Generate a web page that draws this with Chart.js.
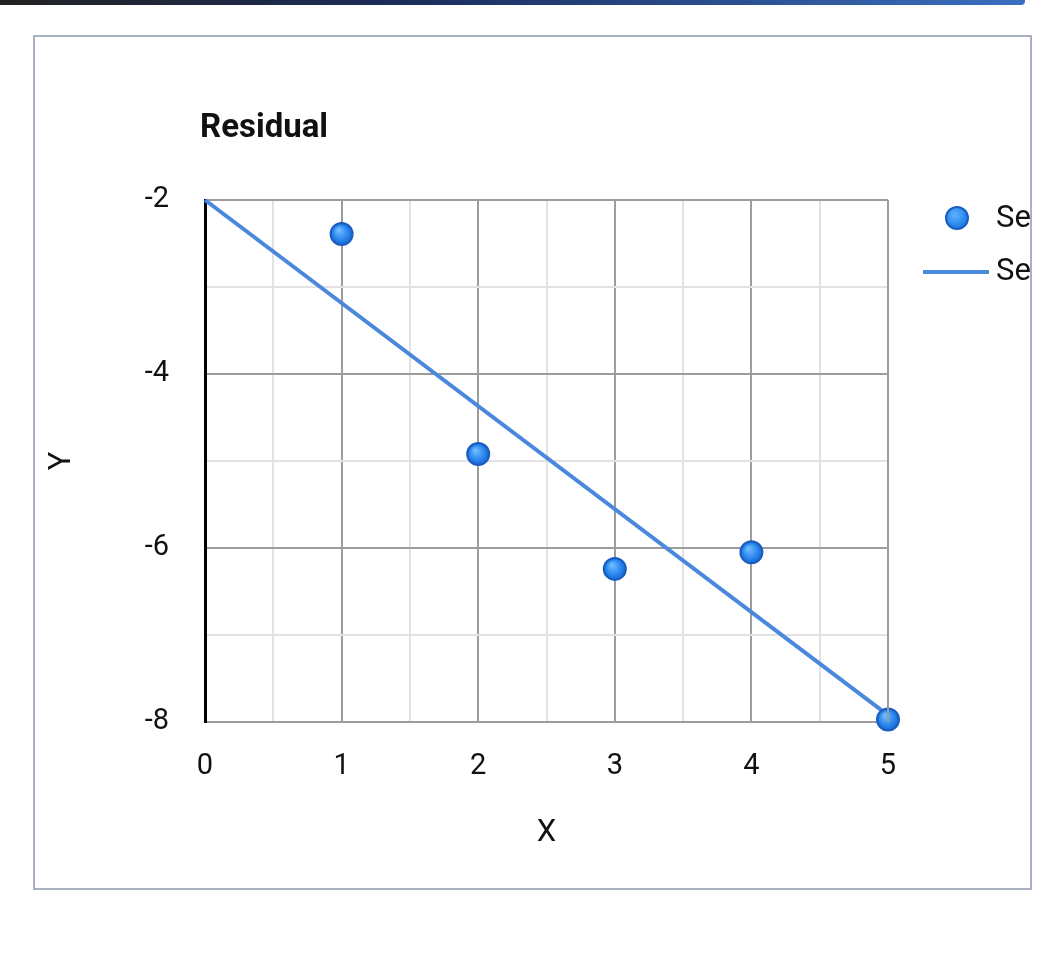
<!DOCTYPE html>
<html>
<head>
<meta charset="utf-8">
<script src="https://cdn.jsdelivr.net/npm/chart.js@4.4.1/dist/chart.umd.min.js"></script>
<style>
    body { margin: 0; background: #fff; font-family: Roboto, sans-serif; }
    #topBar { position: absolute; left: 0; top: 0; width: 1025px; height: 5px;
        background: linear-gradient(90deg, #222 0%, #1b2d5c 40%, #3a6fc0 100%); border-radius: 0 0 4px 0; }
    #frame { position: absolute; left: 33px; top: 35px; width: 995px; height: 851px;
        border: 2px solid #a9b0bf; overflow: hidden; }
    #wrap { position: absolute; left: 0; top: 0; width: 1060px; height: 964px; }
    #titulo { position: absolute; left: 200px; top: 106px; font-size: 33px; font-weight: 700; color: #111; }
    .leg { position: absolute; font-size: 31px; color: #111; white-space: nowrap; }
    .leg-dot { position: absolute; width: 20px; height: 20px; border-radius: 50%;
        background: radial-gradient(circle at 40% 35%, #5fb2ff, #1f7fe8 70%); border: 2px solid #1a5cc0; }
    .leg-line { position: absolute; height: 4px; background: #4a88dd; }
</style>
</head>
<body>
<div id="topBar"></div>
<div id="wrap"><canvas id="residualChart"></canvas></div>
<div id="frame">
    <div class="leg-dot" style="left: 910px; top: 169px;"></div>
    <div class="leg" style="left: 961px; top: 161px;">Series 1</div>
    <div class="leg-line" style="left: 888px; top: 233px; width: 66px;"></div>
    <div class="leg" style="left: 961px; top: 214px;">Series 2</div>
</div>
<div id="titulo">Residual</div>

<script>
// dados
const xValores = [1, 2, 3, 4, 5];
const residuos = [-2.39, -4.92, -6.24, -6.05, -7.97];
const linhaX = [0, 5];
const linhaY = [-2.0, -7.92];
const xTicks = [0, 1, 2, 3, 4, 5];
const yTicks = [-8, -6, -4, -2];

let residualChart = null;

document.addEventListener('DOMContentLoaded', function() {
    desenharGrafico();
});

// gradiente "brilhante" dos pontos
function corPonto(c) {
    const el = c.element;
    if (!el || el.x === undefined) return '#2f8cf0';
    const g = c.chart.ctx.createRadialGradient(el.x - 3, el.y - 4, 1, el.x, el.y, 11);
    g.addColorStop(0, '#6cbaff');
    g.addColorStop(0.7, '#2582ea');
    g.addColorStop(1, '#1a66d0');
    return g;
}

function desenharGrafico() {
    const ctx = document.getElementById('residualChart').getContext('2d');
    if (residualChart) residualChart.destroy();

    const pontos = xValores.map((x, i) => ({ x: x, y: residuos[i] }));
    const linha = linhaX.map((x, i) => ({ x: x, y: linhaY[i] }));

    residualChart = new Chart(ctx, {
        type: 'scatter',
        data: {
            datasets: [
                {
                    label: 'Series 1',
                    data: pontos,
                    backgroundColor: corPonto,
                    borderColor: '#1a5cc0',
                    borderWidth: 2,
                    pointRadius: 11,
                    clip: false,
                    order: 0
                },
                {
                    label: 'Series 2',
                    type: 'line',
                    data: linha,
                    borderColor: '#4a88dd',
                    borderWidth: 4,
                    pointRadius: 0,
                    fill: false,
                    clip: false,
                    order: 1
                }
            ]
        },
        options: {
            responsive: true,
            maintainAspectRatio: false,
            animation: false,
            layout: { padding: { left: 40, right: 172, top: 200, bottom: 104 } },
            plugins: {
                legend: { display: false },
                tooltip: { enabled: false }
            },
            scales: {
                x: {
                    type: 'linear',
                    min: 0,
                    max: 5,
                    afterFit: (s) => { s.height = 138; },
                    afterBuildTicks: (s) => {
                        const t = [];
                        for (let v = 0; v <= 10; v++) t.push({ value: v / 2 });
                        s.ticks = t;
                    },
                    ticks: {
                        padding: 27,
                        color: '#111',
                        font: { family: 'Roboto', size: 29 },
                        callback: (v) => xTicks.includes(v) ? String(v) : ''
                    },
                    grid: {
                        drawTicks: false,
                        lineWidth: 2,
                        color: (c) => Number.isInteger(c.tick.value) ? '#9c9c9c' : '#e2e2e2'
                    },
                    border: { color: '#9c9c9c', width: 2 },
                    title: {
                        display: true,
                        text: 'X',
                        color: '#111',
                        font: { family: 'Roboto', size: 31 },
                        padding: { top: 0, bottom: 8 }
                    }
                },
                y: {
                    type: 'linear',
                    min: -8,
                    max: -2,
                    afterFit: (s) => { s.width = 165; },
                    afterBuildTicks: (s) => {
                        const t = [];
                        for (let v = -8; v <= -2; v++) t.push({ value: v });
                        s.ticks = t;
                    },
                    ticks: {
                        padding: 36,
                        color: '#111',
                        font: { family: 'Roboto', size: 29 },
                        callback: (v) => yTicks.includes(v) ? String(v) : ''
                    },
                    grid: {
                        drawTicks: false,
                        lineWidth: 2,
                        color: (c) => c.tick.value % 2 === 0 ? '#9c9c9c' : '#e2e2e2'
                    },
                    border: { color: '#000', width: 3 },
                    title: {
                        display: true,
                        text: 'Y',
                        color: '#111',
                        font: { family: 'Roboto', size: 31 },
                        padding: { top: 4, bottom: 0 }
                    }
                }
            }
        },
        plugins: [{
            // borda direita da área do gráfico
            id: 'bordaDireita',
            afterDraw(chart) {
                const a = chart.chartArea;
                const c = chart.ctx;
                c.save();
                c.strokeStyle = '#9c9c9c';
                c.lineWidth = 2;
                c.beginPath();
                c.moveTo(a.right, a.top);
                c.lineTo(a.right, a.bottom);
                c.stroke();
                c.restore();
            }
        }]
    });
}
</script>
</body>
</html>
